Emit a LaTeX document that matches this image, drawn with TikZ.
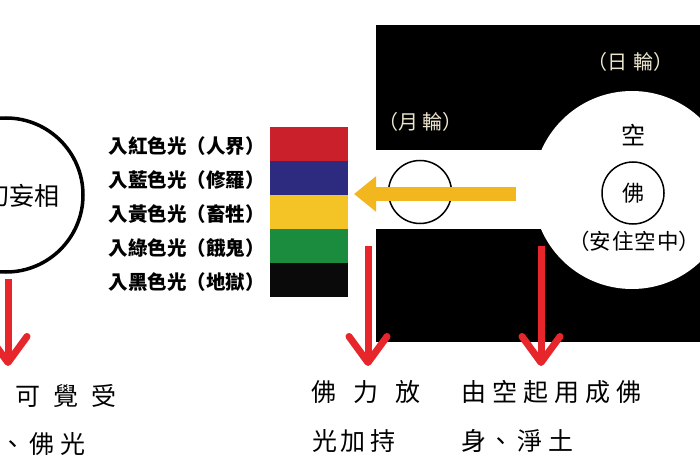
\documentclass[tikz,border=0pt]{standalone}
\usepackage{fontspec}
\newfontfamily\cjk{Noto Sans CJK TC}
\usetikzlibrary{arrows.meta}
\definecolor{barred}{HTML}{C9202B}
\definecolor{barblue}{HTML}{2C2B7F}
\definecolor{baryel}{HTML}{F4C426}
\definecolor{bargreen}{HTML}{1B8B3D}
\definecolor{barblack}{HTML}{0A0A0A}
\definecolor{arrred}{HTML}{E6262A}
\definecolor{arryel}{HTML}{F2B71F}
\definecolor{cream}{HTML}{EDE6CF}
\begin{document}
\begin{tikzpicture}[x=1pt,y=-1pt,
  lab/.style={font=\cjk\bfseries\fontsize{19.5}{20}\selectfont, anchor=east, inner sep=0pt},
  colbar/.style={draw=none, minimum width=78pt, minimum height=34pt, inner sep=0pt, anchor=north west},
  redarrow/.style={draw=arrred, line width=7pt, -{Straight Barb[length=26pt,width=38pt,line width=7pt,round]}},
  yelarrow/.style={draw=arryel, line width=14pt, -{Triangle[length=22pt,width=34pt]}},
  bottomtxt/.style={font=\cjk\fontsize{25}{25}\selectfont, anchor=west, inner sep=0pt},
  creamtxt/.style={text=cream, font=\cjk\fontsize{20}{20}\selectfont, inner sep=0pt},
  thinring/.style={circle, draw=black, line width=1.5pt, inner sep=0pt},
]
\useasboundingbox (0,0) rectangle (700,470);
\clip (0,0) rectangle (700,470);
\fill[white] (0,0) rectangle (700,470);

% black panel
\fill[black] (376,25) rectangle (700,150);
\fill[black] (376,229) rectangle (700,342);

% sun disc
\node[circle, fill=white, minimum size=198pt, inner sep=0pt] (sun) at (632,190) {};
\node[thinring, minimum size=62pt, font=\cjk\fontsize{22}{22}\selectfont] (fo) at (633,193) {佛};
\node[font=\cjk\fontsize{24}{24}\selectfont, inner sep=0pt] (kong) at (633,135) {空};
\node[font=\cjk\fontsize{21.5}{22}\selectfont, inner sep=0pt] (anzhu) at (634,241) {（安\hspace{1pt}住\hspace{1pt}空\hspace{1pt}中）};
\node[creamtxt] (rilun) at (630,62) {（日\hspace{6pt}輪）};
\node[creamtxt] (yuelun) at (420,122) {（月\hspace{4pt}輪）};

% moon ring
\node[thinring, minimum size=63pt] (moon) at (420,192) {};

% yellow arrow
\coordinate (yA) at (516,194);
\coordinate (yB) at (354,194);
\draw[yelarrow] (yA) -- (yB);

% left circle
\node[circle, draw=black, line width=3.5pt, minimum size=154pt, inner sep=0pt] (wang) at (6,195) {};
\node[font=\cjk\fontsize{25}{25}\selectfont, inner sep=0pt] (wangtxt) at (22,196) {幻妄相};

% colour bars
\node[colbar, fill=barred]   (b1) at (270,127) {};
\node[colbar, fill=barblue]  (b2) at (270,161) {};
\node[colbar, fill=baryel]   (b3) at (270,195) {};
\node[colbar, fill=bargreen] (b4) at (270,229) {};
\node[colbar, fill=barblack] (b5) at (270,263) {};

\node[lab] (l1) at (265,146) {入紅色光（人界）};
\node[lab] (l2) at (265,180) {入藍色光（修羅）};
\node[lab] (l3) at (265,214) {入黃色光（畜牲）};
\node[lab] (l4) at (265,248) {入綠色光（餓鬼）};
\node[lab] (l5) at (265,282) {入黑色光（地獄）};

% red arrows
\coordinate (r1s) at (8,279);
\coordinate (r1e) at (8,366);
\coordinate (r2s) at (368,246);
\coordinate (r2e) at (368,366);
\coordinate (r3s) at (541,246);
\coordinate (r3e) at (541,366);
\draw[redarrow] (r1s) -- (r1e);
\draw[redarrow] (r2s) -- (r2e);
\draw[redarrow] (r3s) -- (r3e);

% bottom texts
\node[bottomtxt] (t1a) at (15,396) {可\hspace{13pt}覺\hspace{13pt}受};
\node[bottomtxt] (t1b) at (0,444) {、\hspace{4pt}佛\hspace{6pt}光};
\node[bottomtxt] (t2a) at (311,392) {佛\hspace{17pt}力\hspace{17pt}放};
\node[bottomtxt] (t2b) at (312,441) {光\hspace{3pt}加\hspace{5pt}持};
\node[bottomtxt] (t3a) at (461,392) {由\hspace{6pt}空\hspace{6pt}起\hspace{6pt}用\hspace{6pt}成\hspace{6pt}佛};
\node[bottomtxt] (t3b) at (461,441) {身\hspace{2pt}、\hspace{4pt}淨\hspace{6pt}土};
\end{tikzpicture}
\end{document}
